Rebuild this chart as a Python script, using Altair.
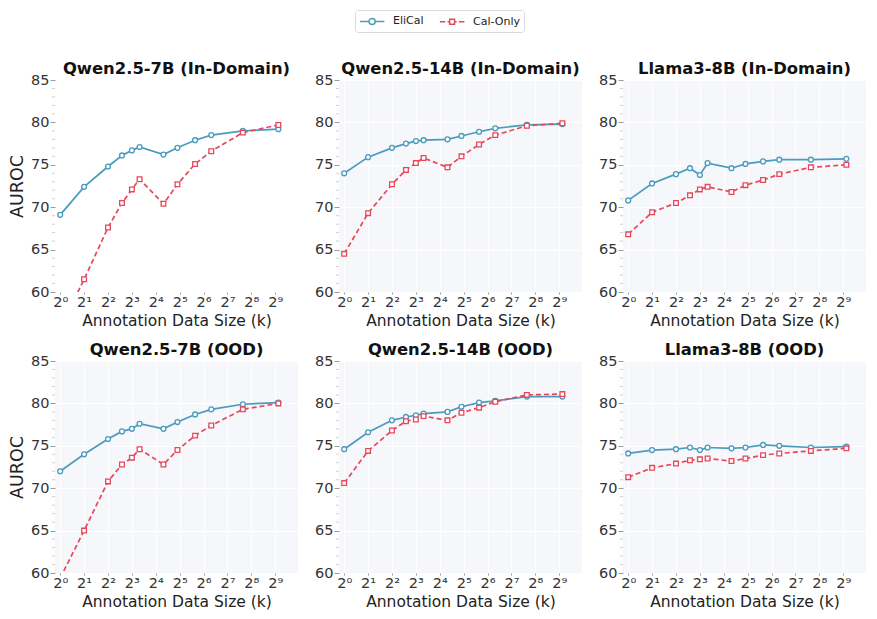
import json
import altair as alt
import pandas as pd

# ---------------- data ----------------
sizes_k = [1, 2, 4, 6, 8, 10, 20, 30, 50, 80, 200, 560]
methods = ["EliCal", "Cal-Only"]
colors = ["#4a9bbd", "#e8475a"]

x_tick_values = [1, 2, 4, 8, 16, 32, 64, 128, 256, 512]
x_tick_labels = ["2⁰", "2¹", "2²", "2³", "2⁴", "2⁵", "2⁶", "2⁷", "2⁸", "2⁹"]
y_tick_values = [60, 65, 70, 75, 80, 85]
y_minor_values = [61, 62, 63, 64, 66, 67, 68, 69, 71, 72, 73, 74,
                  76, 77, 78, 79, 81, 82, 83, 84]

panel_titles = [
    "Qwen2.5-7B (In-Domain)", "Qwen2.5-14B (In-Domain)", "Llama3-8B (In-Domain)",
    "Qwen2.5-7B (OOD)", "Qwen2.5-14B (OOD)", "Llama3-8B (OOD)",
]

q7_id_elical = [69.1, 72.4, 74.8, 76.1, 76.7, 77.1, 76.2, 77.0, 77.9, 78.5, 79.0, 79.2]
q7_id_cal = [55.7, 61.5, 67.6, 70.5, 72.1, 73.3, 70.4, 72.7, 75.1, 76.6, 78.8, 79.7]
q14_id_elical = [74.0, 75.9, 77.0, 77.5, 77.8, 77.9, 78.0, 78.4, 78.9, 79.3, 79.7, 79.8]
q14_id_cal = [64.5, 69.3, 72.7, 74.4, 75.2, 75.8, 74.7, 76.0, 77.4, 78.5, 79.6, 79.9]
l8_id_elical = [70.8, 72.8, 73.9, 74.6, 73.8, 75.2, 74.6, 75.1, 75.4, 75.6, 75.6, 75.7]
l8_id_cal = [66.8, 69.4, 70.5, 71.4, 72.1, 72.4, 71.8, 72.6, 73.2, 73.9, 74.7, 75.0]
q7_ood_elical = [72.0, 74.0, 75.8, 76.7, 77.0, 77.6, 77.0, 77.8, 78.7, 79.3, 79.9, 80.1]
q7_ood_cal = [59.4, 65.0, 70.8, 72.8, 73.6, 74.6, 72.8, 74.5, 76.2, 77.4, 79.3, 80.0]
q14_ood_elical = [74.6, 76.6, 78.0, 78.4, 78.6, 78.8, 79.0, 79.6, 80.1, 80.3, 80.8, 80.8]
q14_ood_cal = [70.6, 74.4, 76.8, 77.9, 78.1, 78.5, 78.0, 78.9, 79.5, 80.2, 81.0, 81.1]
l8_ood_elical = [74.1, 74.5, 74.6, 74.8, 74.5, 74.8, 74.7, 74.8, 75.1, 75.0, 74.8, 74.9]
l8_ood_cal = [71.3, 72.4, 72.9, 73.3, 73.4, 73.5, 73.2, 73.5, 73.9, 74.1, 74.4, 74.7]

series = [
    (q7_id_elical, q7_id_cal), (q14_id_elical, q14_id_cal), (l8_id_elical, l8_id_cal),
    (q7_ood_elical, q7_ood_cal), (q14_ood_elical, q14_ood_cal), (l8_ood_elical, l8_ood_cal),
]

# ---------------- styling ----------------
FONT = "DejaVu Sans"
PW, PH = 243, 212
color_scale = alt.Scale(domain=methods, range=colors)

legend_paths = [
    "M-1,0H0.5M1.5,0H3M0.5,0A0.5,0.5 0 1,0 1.5,0A0.5,0.5 0 1,0 0.5,0",
    "M-1,0H-0.1M0.25,0H0.6M1.4,0H1.75M2.1,0H3M0.6,-0.4H1.4V0.4H0.6Z",
]

label_expr = json.dumps(x_tick_labels, ensure_ascii=False) + "[round(log(datum.value)/LN2)]"


def make_panel(i):
    elical, cal = series[i]
    df = pd.DataFrame({
        "size": sizes_k + sizes_k,
        "auroc": elical + cal,
        "method": [methods[0]] * len(sizes_k) + [methods[1]] * len(sizes_k),
    })
    base = alt.Chart(df)
    x = alt.X("size:Q",
              scale=alt.Scale(type="log", base=2, domain=[0.86, 990], nice=False),
              axis=alt.Axis(values=x_tick_values, labelExpr=label_expr,
                            title="Annotation Data Size (k)", tickSize=2,
                            labelPadding=1, titlePadding=5, titleFontSize=15.5))
    y = alt.Y("auroc:Q",
              scale=alt.Scale(domain=[60, 85], nice=False, zero=False),
              axis=alt.Axis(values=y_tick_values, tickSize=5, labelPadding=1,
                            title="AUROC" if i % 3 == 0 else None, titlePadding=4,
                            titleFontSize=17.5))

    e = base.transform_filter(alt.datum.method == methods[0])
    c = base.transform_filter(alt.datum.method == methods[1])
    layers = [
        alt.Chart(pd.DataFrame({"auroc": y_minor_values})).mark_rule(
            color="#c4c4c4", strokeWidth=0.8
        ).encode(y=y, x=alt.value(-3), x2=alt.value(0)),
        e.mark_line(clip=True, strokeWidth=1.7, stroke=colors[0]).encode(x=x, y=y),
        e.mark_point(clip=True, filled=True, fill="white", stroke=colors[0], shape="circle",
                     size=24, strokeWidth=1.3, opacity=1).encode(x=x, y=y),
        c.mark_line(clip=True, strokeWidth=1.7, strokeDash=[5, 3], stroke=colors[1]).encode(x=x, y=y),
        c.mark_point(clip=True, filled=True, fill="white", stroke=colors[1], shape="square",
                     size=22, strokeWidth=1.3, opacity=1).encode(x=x, y=y),
    ]
    if i == 0:
        leg = alt.Legend(title=None, orient="none", legendX=300, legendY=-70,
                         direction="horizontal", symbolSize=150, symbolStrokeWidth=1.5,
                         symbolFillColor="white", symbolOpacity=1,
                         labelFontSize=11, labelFont=FONT,
                         labelOffset=20, columnPadding=12, padding=4,
                         strokeColor="#d9d9d9", fillColor="white", cornerRadius=3,
                         labelColor="#222")
        layers.append(
            base.transform_filter("false").mark_point(filled=False, size=150).encode(
                stroke=alt.Stroke("method:N", scale=color_scale, legend=leg),
                shape=alt.Shape("method:N", scale=alt.Scale(domain=methods, range=legend_paths),
                                legend=leg),
            )
        )
    return alt.layer(*layers).properties(
        width=PW, height=PH,
        title=alt.TitleParams(panel_titles[i], fontSize=16.4, fontWeight="bold", font=FONT,
                              anchor="middle", offset=-5, frame="group", color="#111"),
    )


row1 = alt.hconcat(make_panel(0), make_panel(1), make_panel(2), spacing=16)
row2 = alt.hconcat(make_panel(3), make_panel(4), make_panel(5), spacing=16)

chart = alt.vconcat(row1, row2, spacing=12).properties(
    padding={"left": 0, "top": 1, "right": 2, "bottom": 2}
).configure_view(
    fill="#f5f7fa", stroke=None
).configure_axis(
    domain=False, grid=True, gridColor="white", gridWidth=1.1,
    labelFont=FONT, labelFontSize=14.5, labelColor="#333",
    titleFont=FONT, titleFontSize=15, titleFontWeight="normal", titleColor="#222",
    tickColor="#9a9a9a",
)

chart.save("out.html", embed_options={"renderer": "svg", "actions": False})
